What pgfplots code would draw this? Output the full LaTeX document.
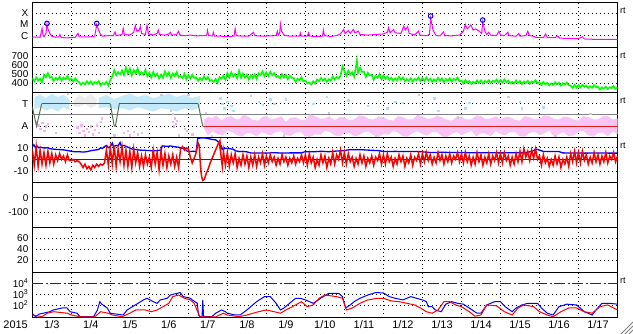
\documentclass[border=0pt]{standalone}
\usepackage{pgfplots}
\pgfplotsset{compat=1.18}
\usepackage{fontspec}
\setmainfont{Liberation Sans}
\definecolor{dkred}{RGB}{150,0,0}
\definecolor{mag}{RGB}{255,0,255}
\definecolor{grn}{RGB}{0,255,0}
\definecolor{ltblue}{RGB}{196,234,250}
\definecolor{ltbluedot}{RGB}{170,225,248}
\definecolor{ltpink}{RGB}{247,196,245}
\definecolor{pinkdot}{RGB}{244,176,240}
\definecolor{graydot}{RGB}{205,205,205}
\definecolor{graylt}{RGB}{236,236,236}
\definecolor{stblue}{RGB}{50,80,230}
\definecolor{stgreen}{RGB}{80,120,80}
\definecolor{stred}{RGB}{220,30,30}
\definecolor{midgray}{RGB}{128,128,128}
\pgfplotsset{
  dotgrid/.style={black, line width=0.9bp, dash pattern=on 0.9bp off 3.1bp},
  panel/.style={
    scale only axis, width=585.2bp, height=45bp,
    xmin=0, xmax=15,
    axis line style={black, line width=1.2bp},
    major tick length=0pt, minor tick length=0pt, tick style={draw=none},
    xtick={0.5,1.5,...,14.5}, xticklabels={},
    minor xtick={1,2,...,14},
    xminorgrids, ymajorgrids,
    minor grid style={dotgrid}, major grid style={dotgrid},
    yticklabel style={font=\fontsize{10}{12}\selectfont, anchor=east, inner sep=0pt, xshift=-3.8bp},
    /pgf/number format/assume math mode=true,
    clip mode=individual,
  },
  rtlabel/.style={after end axis/.append code={
    \node[anchor=west, inner sep=0pt, xshift=2.5bp, font=\fontsize{9}{10}\selectfont] at (rel axis cs:1,0.822) {rt};}},
}
\begin{document}
\begin{tikzpicture}
\path[use as bounding box] (0,0) rectangle (633bp,334bp);
% ---------------- Panel 1: X-ray
\begin{axis}[panel, rtlabel, at={(32.3bp,286.5bp)}, anchor=south west,
  ymin=-7.06, ymax=-3.04, ytick={-6,-5,-4}, yticklabels={C,M,X}]
\addplot[mag, line width=1bp] coordinates {
(0,-6.15)(0.1,-6.12)(0.2,-6.15)(0.23,-5.7)(0.25,-5.36)(0.27,-5.9)(0.3,-6.1)(0.35,-5.8)(0.377,-4.95)(0.4,-5.4)(0.45,-5.8)(0.5,-6.05)(0.6,-6.15)(0.68,-6.1)(0.71,-5.9)(0.74,-6.15)(0.85,-6.2)(1.0,-6.18)(1.1,-6.15)(1.17,-5.8)(1.2,-6.1)(1.35,-6.12)(1.5,-6.1)(1.6,-6.05)(1.653,-5.0)(1.7,-5.5)(1.75,-5.9)(1.8,-6.05)(1.95,-6.0)(2.08,-6.0)(2.12,-5.67)(2.15,-6.0)(2.3,-5.9)(2.33,-5.36)(2.36,-5.9)(2.5,-5.95)(2.6,-5.7)(2.64,-5.1)(2.68,-5.6)(2.74,-5.5)(2.77,-5.2)(2.8,-5.8)(2.9,-5.9)(2.94,-5.06)(2.98,-5.85)(3.1,-5.95)(3.2,-5.8)(3.23,-5.5)(3.26,-5.9)(3.4,-5.95)(3.5,-5.85)(3.54,-5.7)(3.57,-5.95)(3.7,-5.9)(3.75,-5.6)(3.78,-5.95)(3.9,-6.0)(4.05,-5.95)(4.2,-6.02)(4.35,-6.0)(4.47,-6.0)(4.49,-5.52)(4.52,-6.0)(4.62,-6.02)(4.64,-5.7)(4.67,-6.05)(4.8,-6.05)(5.0,-6.07)(5.17,-6.05)(5.2,-5.37)(5.23,-6.0)(5.4,-6.05)(5.55,-6.05)(5.6,-5.9)(5.67,-5.7)(5.7,-6.0)(5.9,-6.05)(6.1,-6.02)(6.25,-6.0)(6.28,-5.6)(6.31,-5.95)(6.34,-5.8)(6.36,-4.97)(6.39,-5.6)(6.45,-5.95)(6.6,-6.05)(6.85,-6.05)(6.87,-5.75)(6.9,-6.05)(7.05,-6.05)(7.08,-5.75)(7.11,-6.05)(7.3,-6.07)(7.44,-6.05)(7.46,-5.5)(7.49,-6.0)(7.65,-6.07)(7.8,-6.0)(7.9,-5.85)(7.98,-5.45)(8.02,-5.8)(8.1,-5.55)(8.15,-5.8)(8.23,-5.45)(8.27,-5.75)(8.36,-5.6)(8.4,-5.9)(8.6,-5.95)(8.8,-5.9)(9.0,-5.85)(9.1,-5.7)(9.13,-5.3)(9.17,-5.75)(9.26,-5.45)(9.3,-5.75)(9.45,-5.8)(9.52,-5.15)(9.56,-5.5)(9.62,-5.2)(9.66,-5.8)(9.8,-5.95)(9.9,-5.6)(9.93,-5.95)(10.1,-6.0)(10.18,-5.9)(10.21,-4.45)(10.27,-5.5)(10.35,-6.0)(10.45,-6.02)(10.54,-5.67)(10.57,-6.0)(10.75,-6.02)(10.95,-5.95)(11.05,-5.6)(11.1,-5.0)(11.15,-5.4)(11.24,-5.05)(11.3,-5.5)(11.37,-5.4)(11.45,-5.6)(11.52,-5.8)(11.545,-4.76)(11.6,-5.6)(11.65,-5.9)(11.7,-5.7)(11.75,-5.95)(11.9,-6.0)(11.96,-5.6)(12.0,-5.95)(12.1,-6.0)(12.19,-5.7)(12.22,-6.0)(12.4,-6.05)(12.47,-5.8)(12.5,-6.05)(12.65,-6.0)(12.7,-5.6)(12.74,-6.0)(12.85,-6.05)(12.9,-6.15)(13.1,-6.18)(13.16,-5.85)(13.2,-6.18)(13.4,-6.18)(13.47,-6.05)(13.52,-6.22)(13.7,-6.25)(14.0,-6.27)(14.1,-6.1)(14.15,-6.3)(14.4,-6.33)(14.8,-6.34)(15,-6.33)};
\addplot[only marks, mark=o, mark size=2.3bp, blue, line width=1bp] coordinates {(0.377,-4.91)(1.653,-4.91)(10.21,-4.25)(11.545,-4.61)};
\end{axis}
% ---------------- Panel 2: solar wind speed
\begin{axis}[panel, rtlabel, at={(32.3bp,241.5bp)}, anchor=south west,
  ymin=300, ymax=800, ytick={400,500,600,700}]
\addplot[grn, line width=1.6bp] coordinates {
(0,462)(0.05,423)(0.1,468)(0.15,432)(0.2,454)(0.25,415)(0.3,496)(0.35,470)(0.4,515)(0.45,465)(0.5,472)(0.55,427)(0.6,463)(0.65,441)(0.7,475)(0.75,433)(0.8,466)(0.85,449)(0.9,483)(0.95,438)
(1,453)(1.05,422)(1.1,457)(1.15,428)(1.2,416)(1.25,385)(1.3,409)(1.35,390)(1.4,425)(1.45,396)(1.5,423)(1.55,388)(1.6,417)(1.65,399)(1.7,425)(1.75,380)(1.8,406)(1.85,392)(1.9,419)(1.95,378)
(2,440)(2.05,478)(2.1,548)(2.15,492)(2.2,527)(2.25,500)(2.3,545)(2.35,495)(2.4,578)(2.45,510)(2.5,565)(2.55,490)(2.6,549)(2.65,512)(2.7,567)(2.75,499)(2.8,526)(2.85,499)(2.9,553)(2.95,481)
(3,520)(3.05,467)(3.1,528)(3.15,479)(3.2,509)(3.25,456)(3.3,498)(3.35,463)(3.4,534)(3.45,485)(3.5,523)(3.55,462)(3.6,511)(3.65,481)(3.7,527)(3.75,470)(3.8,485)(3.85,462)(3.9,508)(3.95,447)
(4,492)(4.05,453)(4.1,498)(4.15,462)(4.2,469)(4.25,430)(4.3,461)(4.35,435)(4.4,480)(4.45,444)(4.5,472)(4.55,427)(4.6,438)(4.65,416)(4.7,450)(4.75,408)(4.8,471)(4.85,454)(4.9,488)(4.95,443)
(5,517)(5.05,468)(5.1,524)(5.15,478)(5.2,506)(5.25,457)(5.3,540)(5.35,464)(5.4,510)(5.45,464)(5.5,499)(5.55,443)(5.6,489)(5.65,460)(5.7,502)(5.75,450)(5.8,514)(5.85,493)(5.9,535)(5.95,479)
(6,524)(6.05,482)(6.1,530)(6.15,491)(6.2,515)(6.25,473)(6.3,484)(6.35,457)(6.4,505)(6.45,466)(6.5,496)(6.55,448)(6.6,487)(6.65,463)(6.7,462)(6.75,417)(6.8,453)(6.85,435)(6.9,471)(6.95,423)
(7,433)(7.05,402)(7.1,408)(7.15,390)(7.2,426)(7.25,400)(7.3,445)(7.35,426)(7.4,461)(7.45,432)(7.5,454)(7.55,419)(7.6,448)(7.65,430)(7.7,478)(7.75,445)(7.8,472)(7.85,459)(7.9,485)(7.95,590)
(8,536)(8.05,487)(8.1,543)(8.15,497)(8.2,526)(8.25,476)(8.3,600)(8.32,655)(8.35,520)(8.4,575)(8.45,530)(8.5,529)(8.55,473)(8.6,519)(8.65,490)(8.7,495)(8.75,442)(8.8,484)(8.85,463)(8.9,505)(8.95,449)
(9,490)(9.05,455)(9.1,477)(9.15,440)(9.2,464)(9.25,430)(9.3,457)(9.35,434)(9.4,474)(9.45,442)(9.5,467)(9.55,427)(9.6,449)(9.65,428)(9.7,458)(9.75,421)(9.8,451)(9.85,436)(9.9,466)(9.95,426)
(10,461)(10.05,426)(10.1,466)(10.15,433)(10.2,453)(10.25,419)(10.3,446)(10.35,424)(10.4,463)(10.45,431)(10.5,456)(10.55,416)(10.6,448)(10.65,429)(10.7,459)(10.75,421)(10.8,451)(10.85,436)(10.9,466)(10.95,426)
(11,433)(11.05,402)(11.1,437)(11.15,408)(11.2,426)(11.25,395)(11.3,419)(11.35,400)(11.4,435)(11.45,406)(11.5,435)(11.55,400)(11.6,429)(11.65,411)(11.7,437)(11.75,404)(11.8,431)(11.85,418)(11.9,444)(11.95,409)
(12,440)(12.05,409)(12.1,444)(12.15,415)(12.2,433)(12.25,402)(12.3,419)(12.35,400)(12.4,435)(12.45,406)(12.5,428)(12.55,393)(12.6,422)(12.65,404)(12.7,430)(12.75,397)(12.8,424)(12.85,411)(12.9,437)(12.95,402)
(13,413)(13.05,385)(13.1,417)(13.15,391)(13.2,407)(13.25,379)(13.3,401)(13.35,383)(13.4,415)(13.45,389)(13.5,409)(13.55,377)(13.6,403)(13.65,387)(13.7,411)(13.75,381)(13.8,375)(13.85,351)(13.9,387)(13.95,355)
(14,381)(14.05,356)(14.1,385)(14.15,362)(14.2,376)(14.25,351)(14.3,371)(14.35,354)(14.4,383)(14.45,360)(14.5,363)(14.55,334)(14.6,357)(14.65,343)(14.7,365)(14.75,338)(14.8,359)(14.85,348)(14.9,370)(14.95,341)(15,355)};
\end{axis}
% ---------------- Panel 3: T/A
\begin{axis}[panel, rtlabel, at={(32.3bp,196.5bp)}, anchor=south west,
  ymin=-1, ymax=1, ytick={-0.5,0.5}, yticklabels={A,T},
  extra y ticks={0}, extra y tick labels={},
  extra y tick style={major grid style={midgray, solid, line width=1bp}}]
\addplot[fill=graylt, draw=none] coordinates {(1.05,0.6)(1.2,0.9)(1.35,0.75)(1.5,0.95)(1.65,0.7)(1.65,0.45)(1.5,0.3)(1.35,0.5)(1.2,0.35)(1.05,0.4)} -- cycle;
\addplot[fill=ltblue, draw=none] coordinates {(0.05,0.8)(0.2,0.9)(0.35,0.75)(0.5,0.95)(0.65,0.8)(0.8,0.9)(0.95,0.7)(0.95,0.2)(0.8,0.35)(0.65,0.15)(0.5,0.3)(0.35,0.2)(0.2,0.35)(0.05,0.25)} -- cycle;
\addplot[fill=ltblue, draw=none] coordinates {(1.7,0.75)(1.9,0.9)(2.1,0.7)(2.3,0.85)(2.5,0.95)(2.7,0.8)(2.9,0.9)(3.1,0.75)(3.3,0.85)(3.5,0.95)(3.7,0.8)(3.9,0.9)(4.1,0.75)(4.3,0.85)(4.3,0.35)(4.1,0.2)(3.9,0.3)(3.7,0.15)(3.5,0.25)(3.3,0.3)(3.1,0.15)(2.9,0.25)(2.7,0.35)(2.5,0.2)(2.3,0.3)(2.1,0.25)(1.9,0.35)(1.7,0.3)} -- cycle;
\addplot[fill=ltpink, draw=none] coordinates {(4.4,-0.2)(4.52,-0.08)(4.6,-0.14)(4.72,-0.02)(4.85,-0.25)(4.95,-0.12)(5.1,-0.05)(5.2,-0.18)(5.3,-0.2)(5.42,0.02)(5.55,-0.1)(5.65,-0.22)(5.8,-0.25)(5.9,-0.08)(6.0,-0.05)(6.12,-0.2)(6.25,-0.15)(6.38,-0.05)(6.5,-0.3)(6.62,-0.12)(6.75,-0.1)(6.88,-0.22)(7.0,-0.2)(7.12,0.03)(7.25,-0.05)(7.38,-0.17)(7.5,-0.15)(7.62,-0.06)(7.75,-0.25)(7.88,-0.1)(8.0,-0.1)(8.12,-0.24)(8.25,-0.2)(8.38,-0.02)(8.5,-0.05)(8.62,-0.18)(8.75,-0.2)(8.88,-0.07)(9.0,-0.1)(9.12,-0.21)(9.25,-0.25)(9.38,-0.04)(9.5,-0.1)(9.62,-0.2)(9.75,-0.2)(9.88,0.0)(10.0,-0.05)(10.12,-0.18)(10.25,-0.15)(10.38,-0.03)(10.5,-0.1)(10.62,-0.22)(10.75,-0.25)(10.88,-0.08)(11.0,-0.1)(11.12,-0.2)(11.25,-0.2)(11.38,-0.02)(11.5,-0.05)(11.62,-0.19)(11.75,-0.15)(11.88,-0.06)(12.0,-0.2)(12.12,-0.1)(12.25,-0.1)(12.38,-0.22)(12.5,-0.25)(12.62,-0.05)(12.75,-0.1)(12.88,-0.2)(13.0,-0.15)(13.12,-0.02)(13.25,-0.05)(13.38,-0.18)(13.5,-0.2)(13.62,-0.07)(13.75,-0.1)(13.88,-0.21)(14.0,-0.25)(14.12,-0.04)(14.25,-0.1)(14.38,-0.19)(14.5,-0.2)(14.62,-0.06)(14.75,-0.05)(14.88,-0.2)(15,-0.15)
(15,-0.85)(14.88,-0.72)(14.75,-0.95)(14.62,-0.78)(14.5,-0.8)(14.38,-0.97)(14.25,-0.9)(14.12,-0.7)(14.0,-0.75)(13.88,-0.9)(13.75,-0.95)(13.62,-0.76)(13.5,-0.85)(13.38,-0.98)(13.25,-0.7)(13.12,-0.82)(13.0,-0.9)(12.88,-0.73)(12.75,-0.8)(12.62,-0.96)(12.5,-0.95)(12.38,-0.78)(12.25,-0.75)(12.12,-0.9)(12.0,-0.85)(11.88,-0.7)(11.75,-0.95)(11.62,-0.83)(11.5,-0.8)(11.38,-0.96)(11.25,-0.7)(11.12,-0.8)(11.0,-0.9)(10.88,-0.74)(10.75,-0.85)(10.62,-0.98)(10.5,-0.95)(10.38,-0.77)(10.25,-0.75)(10.12,-0.92)(10.0,-0.85)(9.88,-0.72)(9.75,-0.8)(9.62,-0.96)(9.5,-0.95)(9.38,-0.8)(9.25,-0.7)(9.12,-0.88)(9.0,-0.85)(8.88,-0.97)(8.75,-0.9)(8.62,-0.74)(8.5,-0.75)(8.38,-0.9)(8.25,-0.95)(8.12,-0.78)(8.0,-0.8)(7.88,-0.96)(7.75,-0.9)(7.62,-0.75)(7.5,-0.7)(7.38,-0.88)(7.25,-0.85)(7.12,-0.98)(7.0,-0.95)(6.88,-0.76)(6.75,-0.8)(6.62,-0.93)(6.5,-0.9)(6.38,-0.72)(6.25,-0.75)(6.12,-0.9)(6.0,-0.85)(5.88,-0.74)(5.75,-0.95)(5.62,-0.83)(5.5,-0.8)(5.38,-0.96)(5.25,-0.9)(5.12,-0.75)(5.0,-0.7)(4.88,-0.92)(4.75,-0.85)(4.62,-0.72)(4.5,-0.9)(4.4,-0.6)} -- cycle;
\addplot[only marks, mark=square*, mark size=0.7bp, pinkdot] coordinates {(0.1,-0.3)(0.15,-0.45)(0.2,-0.6)(0.25,-0.35)(0.3,-0.7)(0.35,-0.5)(0.4,-0.4)(1.15,-0.55)(1.2,-0.8)(1.25,-0.45)(1.3,-0.7)(1.35,-0.9)(1.4,-0.6)(1.45,-0.75)(1.5,-0.5)(1.55,-0.85)(1.6,-0.65)(1.65,-0.45)(1.7,-0.8)(1.75,-0.3)(1.78,-0.15)(2.35,-0.8)(2.45,-0.7)(2.5,-0.9)(2.6,-0.75)(2.7,-0.85)(3.6,-0.3)(3.63,-0.5)(3.65,-0.15)(3.68,-0.4)(3.7,-0.25)(3.95,-0.7)(4.1,-0.85)};
\addplot[only marks, mark=square*, mark size=0.7bp, ltbluedot] coordinates {(4.82,0.75)(4.87,0.5)(4.92,0.3)(5.0,0.6)(5.1,0.4)(5.15,0.2)(5.8,0.6)(5.9,0.45)(6.1,0.7)(6.2,0.5)(6.5,0.7)(7.2,0.5)(7.55,0.8)(8.1,0.65)(8.6,0.4)(9.1,0.3)(9.3,0.6)(9.5,0.55)(10.3,0.75)(10.4,0.2)(11.1,0.3)(11.2,0.55)(12.5,0.6)(12.55,0.3)(13.1,0.35)};
\addplot[only marks, mark=square*, mark size=0.7bp, graydot] coordinates {(0.6,-0.8)(0.9,0.95)(2.1,-0.9)(2.8,-0.8)(3.3,0.9)(3.55,0.2)(3.6,0.05)(3.75,-0.9)(3.9,-0.6)(4.0,0.9)(4.45,0.1)(4.6,-0.95)(5.6,0.85)(6.45,-0.9)(7.6,0.1)(8.8,-0.95)(9.9,0.9)(10.9,-0.1)(12.2,0.8)(13.4,-0.95)(14.3,0.05)};
\addplot[stgreen, line width=1bp] coordinates {(0,0.36)(0.11,-0.5)(0.24,0.5)};
\addplot[stblue, line width=1bp] coordinates {(0.24,0.5)(2.0,0.5)};
\addplot[stgreen, line width=1bp] coordinates {(2.0,0.5)(2.1,-0.5)(2.13,-0.5)(2.23,0.5)};
\addplot[stblue, line width=1bp] coordinates {(2.23,0.5)(4.25,0.5)};
\addplot[stgreen, line width=1bp] coordinates {(4.25,0.5)(4.37,-0.5)};
\addplot[stred, line width=1bp] coordinates {(4.37,-0.5)(15,-0.5)};
\end{axis}
% ---------------- Panel 4: IMF
\begin{axis}[panel, rtlabel, at={(32.3bp,151.5bp)}, anchor=south west,
  ymin=-19.8, ymax=18.8, ytick={-10,10}, yticklabels={-10,10},
  extra y ticks={0}, extra y tick labels={0},
  extra y tick style={major grid style={dkred, solid, line width=1bp}}]
\addplot[blue, line width=1.3bp] coordinates {
(0,11)(0.04,12.5)(0.08,10)(0.12,11.5)(0.16,10)(0.2,10.5)(0.3,9.8)(0.4,10)(0.45,9.2)(0.5,9)(0.6,8.6)(0.7,8.4)(0.8,8.2)(0.9,7.6)(1.0,7)(1.1,6.5)(1.2,6.6)(1.3,6.3)(1.4,6.6)(1.5,7.5)(1.6,8)(1.7,8.5)(1.75,10)(1.8,9.5)(1.85,11)(1.9,12)(1.95,10)(2.0,11)(2.05,14)(2.08,11)(2.15,12)(2.2,11.5)(2.25,14.5)(2.28,11.5)(2.35,12)(2.45,10.5)(2.55,9)(2.65,8.5)(2.75,8)(2.9,7.8)(3.0,7.6)(3.1,7.3)(3.2,7.5)(3.3,8)(3.33,11.6)(3.45,11.2)(3.55,11.5)(3.65,10.8)(3.75,10.5)(3.8,9.6)(3.9,9.4)(3.97,7)(4.05,6.8)(4.15,7)(4.2,6.5)(4.24,18)(4.3,18.3)(4.4,18.5)(4.5,18)(4.6,17.2)(4.7,16.8)(4.75,15.5)(4.8,14)(4.82,8)(4.85,11)(4.88,8.5)(4.95,9.6)(5.05,9.2)(5.15,8.8)(5.2,7.5)(5.3,6.7)(5.4,6.9)(5.5,6.5)(5.6,5.5)(5.8,5.5)(6.0,5.4)(6.2,5.8)(6.4,5.4)(6.6,5.6)(6.9,5.6)(7.0,6.7)(7.2,6.5)(7.4,7.0)(7.6,6.6)(7.8,7.2)(8.0,7.5)(8.1,8.2)(8.3,8.4)(8.5,8.2)(8.7,7.8)(8.9,7.5)(9.0,6.7)(9.3,6.9)(9.5,6.7)(9.8,6.8)(10.0,6.5)(10.2,5.9)(10.5,6.1)(10.8,5.9)(11.0,5.9)(11.3,5.7)(11.6,5.8)(12.0,5.6)(12.3,5.7)(12.6,5.6)(12.75,6.5)(12.85,7.5)(12.9,9)(12.95,8.5)(13.05,7.5)(13.1,6.7)(13.3,6.8)(13.5,6.7)(13.6,5.6)(13.9,5.5)(14.2,5.4)(14.5,5.5)(14.8,5.4)(15,5.4)};
\addplot[red, line width=1.5bp] coordinates {
(0,9)(0.05,-5)(0.1,11)(0.15,-6)(0.2,8)(0.25,-4)(0.3,6)(0.35,-5)(0.4,7)(0.45,-3)(0.5,5)(0.55,-4)(0.6,4)(0.65,-1)(0.7,5)(0.75,0)(0.8,3)(0.85,-2)(0.9,4)(0.95,-1)
(1,-1)(1.05,0)(1.1,-2)(1.15,-1)(1.2,-2)(1.25,-4)(1.3,-7)(1.35,-4)(1.4,-8)(1.45,-6)(1.5,-9)(1.55,-5)(1.6,-7)(1.65,-4)(1.7,-6)(1.75,-4)(1.8,-5)(1.85,-3)(1.9,8)(1.95,-5)
(2,10)(2.05,-4)(2.1,12)(2.15,-6)(2.2,9)(2.25,-2)(2.3,11)(2.35,-5)(2.4,8)(2.45,-6)(2.5,7)(2.55,-7)(2.6,9)(2.65,-3)(2.7,6)(2.75,-6)(2.8,3)(2.85,-6)(2.9,4)(2.95,-4)
(3,2)(3.05,-7)(3.1,8)(3.15,-4)(3.2,6)(3.25,-9)(3.3,7)(3.35,-5)(3.4,5)(3.45,-7)(3.5,3)(3.55,-4)(3.6,4)(3.65,-6)(3.7,2)(3.75,-7)(3.8,9)(3.85,11)(3.9,8)(3.95,10)
(4,9)(4.05,2)(4.1,-3)(4.15,1)(4.2,6)(4.25,14)(4.28,12)(4.31,-5)(4.34,-15)(4.37,-18)(4.41,-17)(4.46,-12)(4.51,-8)(4.56,-3)(4.61,1)(4.66,5)(4.71,9)(4.76,13)(4.81,16)(4.84,2)(4.87,-6)(4.9,7)(4.95,-5)
(5,6)(5.05,-6)(5.1,4)(5.15,-3)(5.2,5)(5.25,-7)(5.3,1)(5.35,-5)(5.4,4)(5.45,-4)(5.5,3)(5.55,-7)(5.6,2)(5.65,-5)(5.7,4)(5.75,-6)(5.8,2)(5.85,-3)(5.9,5)(5.95,-5)
(6,3)(6.05,-3)(6.1,4)(6.15,-2)(6.2,2)(6.25,-5)(6.3,1)(6.35,-4)(6.4,4)(6.45,-2)(6.5,2)(6.55,-5)(6.6,1)(6.65,-3)(6.7,3)(6.75,-4)(6.8,1)(6.85,-2)(6.9,4)(6.95,-3)
(7,4)(7.05,-5)(7.1,5)(7.15,-3)(7.2,2)(7.25,-7)(7.3,0)(7.35,-5)(7.4,4)(7.45,-3)(7.5,3)(7.55,-7)(7.6,1)(7.65,-4)(7.7,6)(7.75,-4)(7.8,4)(7.85,0)(7.9,8)(7.95,-3)
(8,6)(8.05,-4)(8.1,5)(8.15,-2)(8.2,2)(8.25,-6)(8.3,1)(8.35,-4)(8.4,4)(8.45,-3)(8.5,3)(8.55,-6)(8.6,1)(8.65,-3)(8.7,3)(8.75,-5)(8.8,2)(8.85,-1)(8.9,5)(8.95,-4)
(9,4)(9.05,-4)(9.1,5)(9.15,-2)(9.2,2)(9.25,-6)(9.3,1)(9.35,-4)(9.4,4)(9.45,-2)(9.5,3)(9.55,-6)(9.6,1)(9.65,-3)(9.7,4)(9.75,-5)(9.8,2)(9.85,-1)(9.9,5)(9.95,-4)
(10,5)(10.05,-2)(10.1,6)(10.15,-1)(10.2,4)(10.25,-4)(10.3,2)(10.35,-3)(10.4,6)(10.45,-1)(10.5,4)(10.55,-4)(10.6,3)(10.65,-2)(10.7,5)(10.75,-3)(10.8,3)(10.85,0)(10.9,6)(10.95,-2)
(11,5)(11.05,-3)(11.1,6)(11.15,-2)(11.2,3)(11.25,-5)(11.3,2)(11.35,-4)(11.4,6)(11.45,-2)(11.5,4)(11.55,-5)(11.6,2)(11.65,-3)(11.7,5)(11.75,-4)(11.8,3)(11.85,-1)(11.9,6)(11.95,-3)
(12,5)(12.05,-3)(12.1,6)(12.15,-1)(12.2,3)(12.25,-5)(12.3,2)(12.35,-4)(12.4,5)(12.45,-2)(12.5,7)(12.55,-2)(12.6,9)(12.65,2)(12.7,7)(12.75,-1)(12.8,8)(12.85,1)(12.9,9)(12.95,0)
(13,3)(13.05,-5)(13.1,4)(13.15,-3)(13.2,1)(13.25,-6)(13.3,0)(13.35,-5)(13.4,3)(13.45,-4)(13.5,2)(13.55,-7)(13.6,0)(13.65,-4)(13.7,2)(13.75,-6)(13.8,5)(13.85,-2)(13.9,7)(13.95,-3)
(14,6)(14.05,-3)(14.1,7)(14.15,-1)(14.2,4)(14.25,-4)(14.3,2)(14.35,-3)(14.4,6)(14.45,-2)(14.5,4)(14.55,-4)(14.6,3)(14.65,-2)(14.7,6)(14.75,-3)(14.8,3)(14.85,0)(14.9,6)(14.95,-2)(15,3)};
\end{axis}
% ---------------- Panel 5: Dst (no data)
\begin{axis}[panel, at={(32.3bp,106.5bp)}, anchor=south west,
  ymin=-205, ymax=105, ytick={-100}, yticklabels={-100},
  extra y ticks={0}, extra y tick labels={0},
  extra y tick style={major grid style={dkred, solid, line width=1bp}}]
\end{axis}
% ---------------- Panel 6 (no data)
\begin{axis}[panel, at={(32.3bp,61.5bp)}, anchor=south west,
  ymin=-2, ymax=80, ytick={20,40,60}]
\end{axis}
% ---------------- Panel 7: electron flux
\begin{axis}[panel, rtlabel, at={(32.3bp,16.5bp)}, anchor=south west,
  ymin=0.88, ymax=5, ytick={2,3}, yticklabels={10\textsuperscript{2},10\textsuperscript{3}},
  extra y ticks={4}, extra y tick labels={10\textsuperscript{4}},
  extra y tick style={major grid style={dkred, solid, line width=1bp, dash pattern=on 11bp off 2.5bp on 2bp off 2.5bp}},
  xticklabels={1/3,1/4,1/5,1/6,1/7,1/8,1/9,1/10,1/11,1/12,1/13,1/14,1/15,1/16,1/17},
  xticklabel style={font=\fontsize{11}{13}\selectfont, anchor=north, inner sep=0pt, yshift=-3bp},
  after end axis/.append code={
    \node[anchor=north east, inner sep=0pt, xshift=-4.3bp, yshift=-3.2bp, font=\fontsize{11}{13}\selectfont] at (rel axis cs:0,0) {2015};}]
\addplot[blue, line width=1bp] coordinates {
(0,1.27)(0.08,0.95)(0.18,1.2)(0.28,1.27)(0.45,1.41)(0.54,1.57)(0.77,1.75)(0.89,1.75)(0.97,1.41)(1.15,1.27)(1.22,0.95)(1.57,0.95)(1.67,1.57)(1.73,2.33)(1.78,2.1)(1.92,1.75)(2.0,1.27)(2.33,1.11)(2.43,1.57)(2.85,2.49)(2.94,2.64)(3.1,2.33)(3.2,2.18)(3.28,2.49)(3.46,2.64)(3.54,2.94)(3.72,3.10)(3.79,3.16)(3.87,2.79)(4.05,2.64)(4.1,2.49)(4.23,2.18)(4.26,1.11)(4.31,0.95)(4.35,0.95)(4.37,2.49)(4.39,0.95)(4.6,0.95)(4.7,1.27)(4.85,1.57)(4.95,1.41)(5.0,1.27)(5.2,1.11)(5.33,1.11)(5.5,1.57)(5.75,2.33)(5.95,2.79)(6.1,2.79)(6.25,2.18)(6.36,1.57)(6.45,1.75)(6.75,2.64)(6.87,2.64)(7.0,2.49)(7.2,2.18)(7.3,2.40)(7.39,2.64)(7.6,3.10)(7.85,3.10)(7.95,2.79)(8.03,1.75)(8.15,2.03)(8.25,2.33)(8.4,2.64)(8.6,2.94)(8.8,3.16)(9.0,3.13)(9.15,2.79)(9.3,2.64)(9.5,2.49)(9.7,2.79)(9.85,2.64)(10.0,2.49)(10.1,2.33)(10.15,1.87)(10.25,1.87)(10.33,1.57)(10.48,1.41)(10.6,2.10)(10.75,2.33)(10.9,2.18)(11.05,2.10)(11.2,1.75)(11.4,1.27)(11.5,1.27)(11.65,2.03)(11.85,2.33)(12.0,2.33)(12.12,1.87)(12.3,1.41)(12.4,1.75)(12.55,2.03)(12.7,2.18)(12.95,2.18)(13.05,1.75)(13.2,1.27)(13.35,1.11)(13.5,1.87)(13.7,2.10)(13.95,2.03)(14.15,1.41)(14.35,1.11)(14.45,1.57)(14.6,2.18)(14.8,2.18)(15.0,2.10)};
\addplot[red, line width=1bp] coordinates {
(0,1.11)(0.25,0.95)(0.38,1.27)(0.55,1.41)(0.9,1.27)(1.0,1.11)(1.22,0.95)(1.6,0.93)(1.75,1.41)(1.95,1.27)(2.05,1.11)(2.3,0.95)(2.5,1.27)(2.65,1.57)(2.9,1.57)(3.05,1.41)(3.2,1.57)(3.35,1.87)(3.5,2.18)(3.6,2.79)(3.75,2.94)(3.9,2.64)(4.05,2.49)(4.15,2.18)(4.22,1.57)(4.3,0.93)(4.7,0.93)(4.8,1.11)(4.9,1.27)(5.0,1.11)(5.3,0.95)(5.5,1.11)(5.8,1.41)(6.0,1.57)(6.2,1.41)(6.36,1.27)(6.5,1.57)(6.75,2.03)(6.9,2.33)(7.05,1.87)(7.2,2.03)(7.35,2.64)(7.5,2.94)(7.8,2.79)(7.95,2.64)(8.05,1.57)(8.2,1.75)(8.4,2.18)(8.6,2.49)(8.85,2.64)(9.0,2.64)(9.2,2.40)(9.4,2.33)(9.6,2.18)(9.8,2.03)(9.95,1.75)(10.1,1.41)(10.25,1.27)(10.4,1.57)(10.55,2.33)(10.7,2.33)(10.85,2.03)(11.0,1.87)(11.2,1.41)(11.35,1.0)(11.5,1.11)(11.65,2.03)(11.9,1.95)(12.1,1.41)(12.3,1.11)(12.45,1.75)(12.6,2.03)(12.85,1.87)(13.0,1.41)(13.2,1.11)(13.35,0.95)(13.55,1.41)(13.75,1.75)(13.95,1.75)(14.15,1.41)(14.35,1.27)(14.55,1.87)(14.75,2.03)(14.9,1.75)(15.0,1.57)};
\end{axis}
% resize grip
\draw[gray, line width=0.8bp] (621bp,0bp) -- (633bp,12bp);
\draw[gray, line width=0.8bp] (625bp,0bp) -- (633bp,8bp);
\draw[gray, line width=0.8bp] (629bp,0bp) -- (633bp,4bp);
\end{tikzpicture}
\end{document}
